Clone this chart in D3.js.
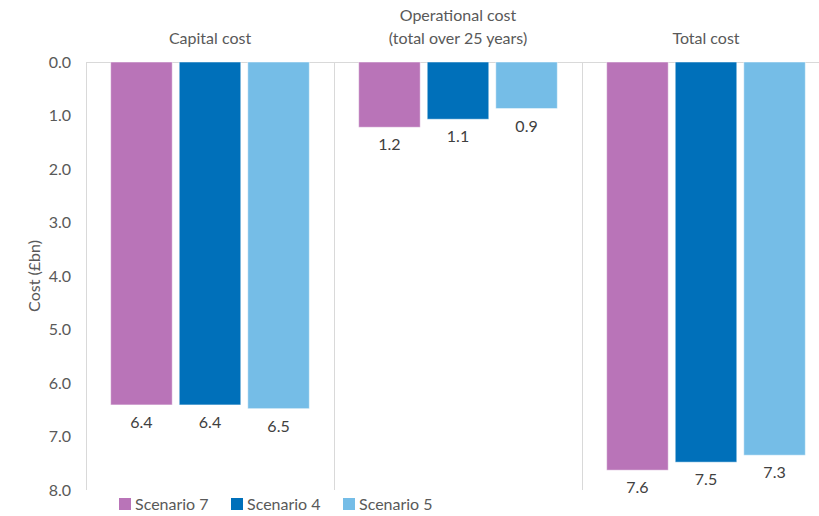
<!DOCTYPE html>
<html><head><meta charset="utf-8">
<script src="https://cdn.jsdelivr.net/npm/d3@7"></script>
<style>body{margin:0;background:#fff}svg{display:block}text{font-family:Lato,"Open Sans",sans-serif;fill:#595959}</style>
</head><body><svg id="c" width="819" height="516"></svg>
<script>
const categories = ["Capital cost", "Operational cost|(total over 25 years)", "Total cost"];
const seriesNames = ["Scenario 7", "Scenario 4", "Scenario 5"];
const scenario7 = [6.41, 1.22, 7.63];
const scenario4 = [6.41, 1.07, 7.48];
const scenario5 = [6.48, 0.87, 7.35];
const yTicks = [0, 1, 2, 3, 4, 5, 6, 7, 8];
const colors = ["#B974B8", "#0070BA", "#75BDE7"];

(function () {
const series = [scenario7, scenario4, scenario5];
const svg = d3.select("#c");
const pL = 86, pR = 830, pT = 62, pB = 490;
const fs = "16px";

const x0 = d3.scaleBand().domain(d3.range(categories.length)).range([pL, pR]).padding(0);
const x1 = d3.scaleBand().domain(d3.range(seriesNames.length)).range([0, x0.bandwidth()]).paddingInner(0.102).paddingOuter(0.36);
const y = d3.scaleLinear().domain([0, 8]).range([pT, pB]);

svg.append("line").attr("x1", pL).attr("x2", pR).attr("y1", y(0) + 0.5).attr("y2", y(0) + 0.5).attr("stroke", "#d9d9d9").attr("stroke-width", 1);
d3.range(categories.length + 1).forEach(i => {
  const xx = pL + i * x0.step();
  svg.append("line").attr("x1", xx + 0.5).attr("x2", xx + 0.5).attr("y1", y(0)).attr("y2", y(8)).attr("stroke", "#d9d9d9").attr("stroke-width", 1);
});

const yAxis = d3.axisLeft(y).tickValues(yTicks).tickFormat(d3.format(".1f")).tickSize(0).tickPadding(15);
const ga = svg.append("g").attr("transform", `translate(${pL},0)`).call(yAxis);
ga.select(".domain").remove();
ga.selectAll("text").style("font-size", fs).attr("fill", "#595959").style("font-family", "Lato");

svg.append("text").attr("transform", `translate(34,${(pT + pB) / 2}) rotate(-90)`).attr("text-anchor", "middle").attr("dy", "0.35em").style("font-size", fs).text("Cost (£bn)");

categories.forEach((c, i) => {
  const lines = c.split("|");
  const cx = x0(i) + x0.bandwidth() / 2;
  lines.forEach((l, j) => {
    svg.append("text").attr("x", cx).attr("y", 44 - (lines.length - 1 - j) * 23).attr("text-anchor", "middle").style("font-size", fs).text(l);
  });
});

series.forEach((vals, s) => {
  const g = svg.append("g");
  g.selectAll("rect").data(vals).join("rect")
    .attr("x", (d, i) => x0(i) + x1(s))
    .attr("y", y(0))
    .attr("width", x1.bandwidth())
    .attr("height", d => y(d) - y(0))
    .attr("fill", colors[s])
    .attr("stroke", "#fff").attr("stroke-opacity", 0.5).attr("stroke-width", 1);
  g.selectAll("text").data(vals).join("text")
    .attr("x", (d, i) => x0(i) + x1(s) + x1.bandwidth() / 2)
    .attr("y", d => y(d) + 23)
    .attr("text-anchor", "middle").style("font-size", fs).style("fill", "#404040")
    .text(d => d3.format(".1f")(d));
});

const legX = [119, 231, 343];
seriesNames.forEach((n, i) => {
  svg.append("rect").attr("x", legX[i]).attr("y", 498).attr("width", 12).attr("height", 12).attr("fill", colors[i]);
  svg.append("text").attr("x", legX[i] + 16).attr("y", 510).style("font-size", fs).text(n);
});
})();
</script></body></html>
